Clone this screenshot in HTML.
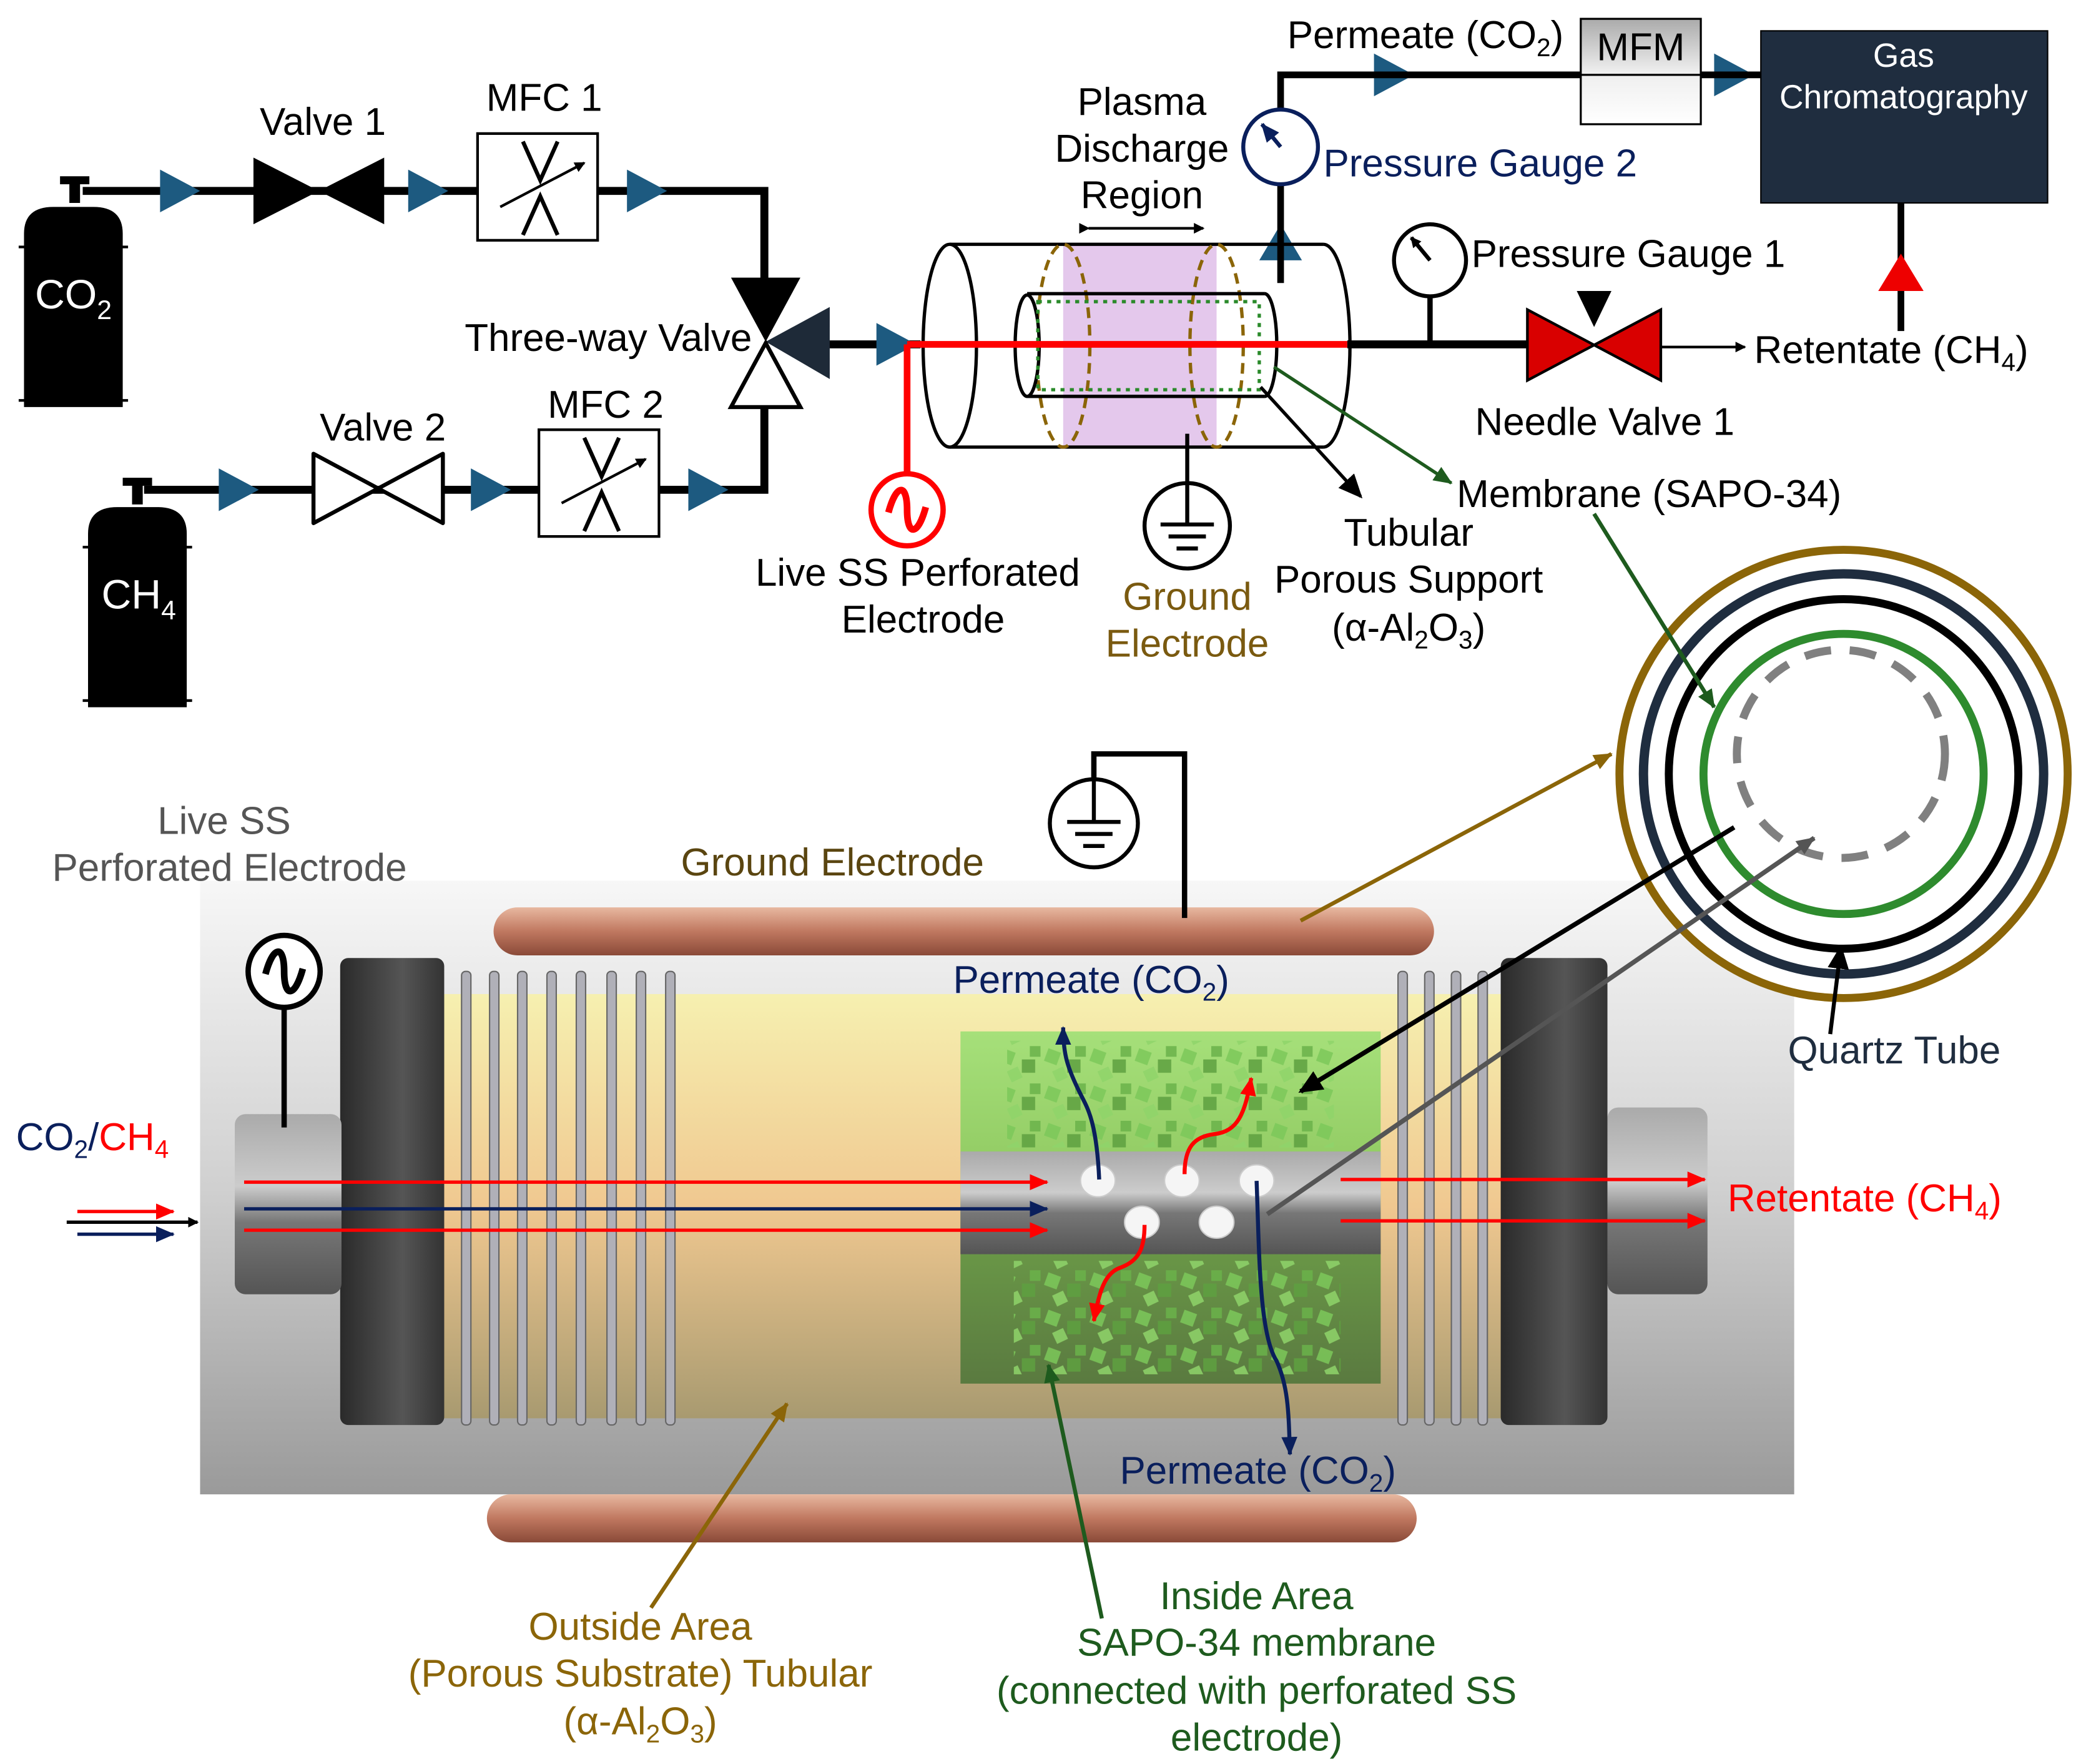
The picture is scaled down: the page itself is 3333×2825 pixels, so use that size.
<!DOCTYPE html>
<html><head><meta charset="utf-8"><style>
html,body{margin:0;padding:0;background:#fff}
svg{display:block}
text{font-family:"Liberation Sans",sans-serif}
</style></head><body>
<svg width="3333" height="2825" viewBox="0 0 1560 1322" xmlns="http://www.w3.org/2000/svg">
<defs>
<marker id="ak" markerWidth="8" markerHeight="8" refX="7" refY="4" orient="auto" markerUnits="userSpaceOnUse"><path d="M0,0 L8,4 L0,8z" fill="#000"/></marker>
<marker id="ak2" markerWidth="18" markerHeight="16" refX="16" refY="8" orient="auto" markerUnits="userSpaceOnUse"><path d="M0,0 L18,8 L0,16z" fill="#000"/></marker>
<marker id="ar" markerWidth="14" markerHeight="12" refX="13" refY="6" orient="auto" markerUnits="userSpaceOnUse"><path d="M0,0 L14,6 L0,12z" fill="#f00"/></marker>
<marker id="ab" markerWidth="14" markerHeight="12" refX="13" refY="6" orient="auto" markerUnits="userSpaceOnUse"><path d="M0,0 L14,6 L0,12z" fill="#0a1f5c"/></marker>
<marker id="ag" markerWidth="14" markerHeight="12" refX="13" refY="6" orient="auto" markerUnits="userSpaceOnUse"><path d="M0,0 L14,6 L0,12z" fill="#1e5b1e"/></marker>
<marker id="ao" markerWidth="14" markerHeight="12" refX="13" refY="6" orient="auto" markerUnits="userSpaceOnUse"><path d="M0,0 L14,6 L0,12z" fill="#8b6508"/></marker>
<marker id="ag2" markerWidth="14" markerHeight="12" refX="13" refY="6" orient="auto" markerUnits="userSpaceOnUse"><path d="M0,0 L14,6 L0,12z" fill="#555"/></marker>
<linearGradient id="quartz" x1="0" y1="0" x2="0" y2="1"><stop offset="0" stop-color="#f7f7f7"/><stop offset="0.5" stop-color="#d0d0d0"/><stop offset="1" stop-color="#9a9a9a"/></linearGradient>
<linearGradient id="cap" x1="0" y1="0" x2="1" y2="0"><stop offset="0" stop-color="#2a2a2a"/><stop offset="0.6" stop-color="#555"/><stop offset="1" stop-color="#333"/></linearGradient>
<linearGradient id="yel" x1="0" y1="0" x2="0" y2="1"><stop offset="0" stop-color="#f6f0b0"/><stop offset="0.5" stop-color="#f0c890"/><stop offset="1" stop-color="#a89a70"/></linearGradient>
<linearGradient id="grn" x1="0" y1="0" x2="0" y2="1"><stop offset="0" stop-color="#a6e07a"/><stop offset="0.45" stop-color="#8fc860"/><stop offset="0.55" stop-color="#6c9c48"/><stop offset="1" stop-color="#5a7a40"/></linearGradient>
<linearGradient id="tube" x1="0" y1="0" x2="0" y2="1"><stop offset="0" stop-color="#aaa"/><stop offset="0.4" stop-color="#ccc"/><stop offset="0.6" stop-color="#777"/><stop offset="1" stop-color="#555"/></linearGradient>
<linearGradient id="cu" x1="0" y1="0" x2="0" y2="1"><stop offset="0" stop-color="#e8b8a0"/><stop offset="0.5" stop-color="#c07860"/><stop offset="1" stop-color="#8a4a38"/></linearGradient>
<linearGradient id="mfm" x1="0" y1="0" x2="0" y2="1"><stop offset="0" stop-color="#aaa"/><stop offset="0.5" stop-color="#eee"/><stop offset="1" stop-color="#fff"/></linearGradient>
<pattern id="cubes" width="34" height="28" patternUnits="userSpaceOnUse"><rect x="2" y="3" width="10" height="10" fill="#7cc85a" transform="rotate(20 7 8)"/><rect x="18" y="10" width="10" height="10" fill="#5ea040"/><rect x="8" y="17" width="9" height="9" fill="#8fd46a" transform="rotate(-25 12 21)"/><rect x="24" y="0" width="8" height="8" fill="#6ab24a"/></pattern>
</defs>

<rect x="45" y="132" width="22" height="6" fill="#000"/><rect x="52" y="136" width="8" height="16" fill="#000"/>
<path d="M18,305 L18,175 Q18,155 40,155 L70,155 Q92,155 92,175 L92,305 Z" fill="#000"/>
<line x1="14" y1="185" x2="96" y2="185" stroke="#000" stroke-width="2"/><line x1="14" y1="300" x2="96" y2="300" stroke="#000" stroke-width="2"/>
<text x="55" y="231" font-size="31" fill="#fff" text-anchor="middle">CO<tspan font-size="20" dy="8">2</tspan></text>
<rect x="92" y="358" width="22" height="6" fill="#000"/><rect x="99" y="362" width="8" height="16" fill="#000"/>
<path d="M66,530 L66,400 Q66,380 88,380 L118,380 Q140,380 140,400 L140,530 Z" fill="#000"/>
<line x1="62" y1="410" x2="144" y2="410" stroke="#000" stroke-width="2"/><line x1="62" y1="525" x2="144" y2="525" stroke="#000" stroke-width="2"/>
<text x="104" y="456" font-size="31" fill="#fff" text-anchor="middle">CH<tspan font-size="20" dy="8">4</tspan></text>

<polyline points="62,143 573,143 573,215" fill="none" stroke="#000" stroke-width="6"/>
<polyline points="108,367 573,367 573,300" fill="none" stroke="#000" stroke-width="6"/>
<line x1="620" y1="258" x2="690" y2="258" stroke="#000" stroke-width="6"/>
<g fill="#1d5a80">
<path d="M120,127 L150,143 L120,159z"/><path d="M306,127 L336,143 L306,159z"/><path d="M470,127 L500,143 L470,159z"/>
<path d="M164,351 L194,367 L164,383z"/><path d="M353,351 L383,367 L353,383z"/><path d="M516,351 L546,367 L516,383z"/>
<path d="M657,242 L687,258 L657,274z"/>
<path d="M1030,40 L1060,56 L1030,72z"/><path d="M1285,40 L1315,56 L1285,72z"/>
<path d="M944,195 L960,168 L976,195z"/>
</g>
<path d="M190,118 L288,168 L288,118 L190,168z" fill="#000"/>
<text x="242" y="101" font-size="29" text-anchor="middle">Valve 1</text>
<rect x="358" y="100" width="90" height="80" fill="#fff" stroke="#000" stroke-width="2"/>
<path d="M392,106 L405,135 L418,106 M392,176 L405,147 L418,176" fill="none" stroke="#000" stroke-width="3"/>
<line x1="375" y1="155" x2="438" y2="122" stroke="#000" stroke-width="2" marker-end="url(#ak)"/>
<text x="408" y="83" font-size="29" text-anchor="middle">MFC 1</text>
<path d="M235,340 L332,392 L332,340 L235,392z" fill="#fff" stroke="#000" stroke-width="3" stroke-linejoin="round"/>
<text x="287" y="330" font-size="29" text-anchor="middle">Valve 2</text>
<rect x="404" y="322" width="90" height="80" fill="#fff" stroke="#000" stroke-width="2"/>
<path d="M438,328 L451,357 L464,328 M438,398 L451,369 L464,398" fill="none" stroke="#000" stroke-width="3"/>
<line x1="421" y1="377" x2="484" y2="344" stroke="#000" stroke-width="2" marker-end="url(#ak)"/>
<text x="454" y="313" font-size="29" text-anchor="middle">MFC 2</text>
<path d="M548,208 L600,208 L574,256z" fill="#000"/>
<path d="M622,230 L622,284 L574,256z" fill="#1e2a38"/>
<path d="M548,305 L600,305 L574,257z" fill="#fff" stroke="#000" stroke-width="3"/>
<text x="456" y="263" font-size="29" text-anchor="middle">Three-way Valve</text>

<rect x="797" y="183" width="115" height="152" fill="#e4c8ec"/>
<line x1="712" y1="183" x2="992" y2="183" stroke="#000" stroke-width="2.5"/>
<line x1="712" y1="335" x2="992" y2="335" stroke="#000" stroke-width="2.5"/>
<ellipse cx="712" cy="259" rx="20" ry="76" fill="#fff" stroke="#000" stroke-width="2.5"/>
<path d="M992,183 A20,76 0 0 1 992,335" fill="none" stroke="#000" stroke-width="2.5"/>
<ellipse cx="797" cy="259" rx="20" ry="76" fill="none" stroke="#8b6508" stroke-width="2.5" stroke-dasharray="8,5"/>
<ellipse cx="912" cy="259" rx="20" ry="76" fill="none" stroke="#8b6508" stroke-width="2.5" stroke-dasharray="8,5"/>
<line x1="770" y1="220" x2="948" y2="220" stroke="#000" stroke-width="2.5"/>
<line x1="770" y1="297" x2="948" y2="297" stroke="#000" stroke-width="2.5"/>
<ellipse cx="770" cy="259" rx="9" ry="38" fill="#fff" stroke="#000" stroke-width="2.5"/>
<path d="M948,220 A9,38 0 0 1 948,297" fill="none" stroke="#000" stroke-width="2.5"/>
<rect x="778" y="226" width="166" height="66" fill="none" stroke="#2a8a2a" stroke-width="2.5" stroke-dasharray="3,4"/>
<line x1="816" y1="171" x2="902" y2="171" stroke="#000" stroke-width="2" marker-end="url(#ak)" marker-start="url(#ak)"/>
<text x="856" y="86" font-size="29" text-anchor="middle">Plasma</text>
<text x="856" y="121" font-size="29" text-anchor="middle">Discharge</text>
<text x="856" y="156" font-size="29" text-anchor="middle">Region</text>
<line x1="680" y1="258" x2="1010" y2="258" stroke="#f00" stroke-width="5"/>
<line x1="680" y1="258" x2="680" y2="360" stroke="#f00" stroke-width="5"/>
<circle cx="680" cy="382" r="27" fill="#fff" stroke="#f00" stroke-width="4"/>
<path d="M666,384 C672,362 680,362 680,382 C680,402 688,402 694,380" fill="none" stroke="#f00" stroke-width="5"/>
<text x="688" y="439" font-size="29" text-anchor="middle">Live SS Perforated</text>
<text x="692" y="474" font-size="29" text-anchor="middle">Electrode</text>
<line x1="890" y1="325" x2="890" y2="362" stroke="#000" stroke-width="3"/>
<circle cx="890" cy="394" r="32" fill="#fff" stroke="#000" stroke-width="3"/>
<line x1="890" y1="362" x2="890" y2="392" stroke="#000" stroke-width="3"/>
<g stroke="#000" stroke-width="3"><line x1="870" y1="393" x2="910" y2="393"/><line x1="876" y1="402" x2="904" y2="402"/><line x1="882" y1="411" x2="898" y2="411"/></g>
<text x="890" y="457" font-size="29" fill="#7a5a10" text-anchor="middle">Ground</text>
<text x="890" y="492" font-size="29" fill="#7a5a10" text-anchor="middle">Electrode</text>
<line x1="945" y1="290" x2="1020" y2="372" stroke="#000" stroke-width="2.5" marker-end="url(#ak2)"/>
<line x1="955" y1="275" x2="1088" y2="362" stroke="#1e5b1e" stroke-width="2.5" marker-end="url(#ag)"/>
<text x="1056" y="409" font-size="29" text-anchor="middle">Tubular</text>
<text x="1056" y="444" font-size="29" text-anchor="middle">Porous Support</text>
<text x="1056" y="480" font-size="29" text-anchor="middle">(α-Al<tspan font-size="19" dy="6">2</tspan><tspan dy="-6">O</tspan><tspan font-size="19" dy="6">3</tspan><tspan dy="-6">)</tspan></text>
<text x="1092" y="380" font-size="29">Membrane (SAPO-34)</text>
<line x1="1010" y1="258" x2="1150" y2="258" stroke="#000" stroke-width="6"/>
<line x1="1072" y1="222" x2="1072" y2="258" stroke="#000" stroke-width="4"/>
<circle cx="1072" cy="195" r="27" fill="#fff" stroke="#000" stroke-width="3"/>
<line x1="1072" y1="195" x2="1058" y2="178" stroke="#000" stroke-width="3" marker-end="url(#ak)"/>
<text x="1103" y="200" font-size="29">Pressure Gauge 1</text>
<path d="M1145,232 L1245,285 L1245,232 L1145,285z" fill="#d90000" stroke="#000" stroke-width="2"/>
<path d="M1182,218 L1208,218 L1195,245z" fill="#000"/>
<line x1="1245" y1="260" x2="1308" y2="260" stroke="#000" stroke-width="2" marker-end="url(#ak)"/>
<text x="1315" y="272" font-size="29">Retentate (CH<tspan font-size="19" dy="6">4</tspan><tspan dy="-6">)</tspan></text>
<text x="1203" y="326" font-size="29" text-anchor="middle">Needle Valve 1</text>
<polyline points="960,212 960,56 1185,56" fill="none" stroke="#000" stroke-width="5"/>
<line x1="1275" y1="56" x2="1320" y2="56" stroke="#000" stroke-width="5"/>
<circle cx="960" cy="110" r="28" fill="#fff" stroke="#0a1f5c" stroke-width="3"/>
<line x1="960" y1="110" x2="946" y2="93" stroke="#0a1f5c" stroke-width="3" marker-end="url(#ab)"/>
<text x="992" y="132" font-size="29" fill="#0a1f5c">Pressure Gauge 2</text>
<text x="965" y="36" font-size="29">Permeate (CO<tspan font-size="19" dy="6">2</tspan><tspan dy="-6">)</tspan></text>
<rect x="1185" y="14" width="90" height="79" fill="url(#mfm)" stroke="#000" stroke-width="1.5"/>
<line x1="1185" y1="56" x2="1275" y2="56" stroke="#000" stroke-width="1.5"/>
<text x="1230" y="45" font-size="29" text-anchor="middle">MFM</text>
<rect x="1320" y="23" width="215" height="129" fill="#1f2d3f" stroke="#000"/>
<text x="1427" y="50" font-size="25" fill="#fff" text-anchor="middle">Gas</text>
<text x="1427" y="81" font-size="25" fill="#fff" text-anchor="middle">Chromatography</text>
<line x1="1425" y1="152" x2="1425" y2="248" stroke="#000" stroke-width="5"/>
<path d="M1408,218 L1425,190 L1442,218z" fill="#e00"/>

<rect x="150" y="660" width="1195" height="460" fill="url(#quartz)"/>
<rect x="330" y="745" width="800" height="318" fill="url(#yel)"/>
<g fill="#b0b0b8" stroke="#666" stroke-width="1">
<rect x="346" y="728" width="7" height="340" rx="3"/><rect x="367" y="728" width="7" height="340" rx="3"/><rect x="388" y="728" width="7" height="340" rx="3"/><rect x="410" y="728" width="7" height="340" rx="3"/><rect x="432" y="728" width="7" height="340" rx="3"/><rect x="455" y="728" width="7" height="340" rx="3"/><rect x="477" y="728" width="7" height="340" rx="3"/><rect x="499" y="728" width="7" height="340" rx="3"/>
<rect x="1048" y="728" width="7" height="340" rx="3"/><rect x="1068" y="728" width="7" height="340" rx="3"/><rect x="1088" y="728" width="7" height="340" rx="3"/><rect x="1108" y="728" width="7" height="340" rx="3"/>
</g>
<rect x="720" y="773" width="315" height="264" fill="url(#grn)"/>
<rect x="755" y="780" width="245" height="80" fill="url(#cubes)" opacity="0.85"/>
<rect x="760" y="945" width="245" height="85" fill="url(#cubes)" opacity="0.85"/>
<rect x="720" y="863" width="315" height="77" fill="url(#tube)"/>
<g fill="#f5f5f5" stroke="#ccc"><ellipse cx="823" cy="885" rx="13" ry="12"/><ellipse cx="886" cy="885" rx="13" ry="12"/><ellipse cx="942" cy="885" rx="13" ry="12"/><ellipse cx="856" cy="916" rx="13" ry="12"/><ellipse cx="912" cy="916" rx="13" ry="12"/></g>
<rect x="255" y="718" width="78" height="350" rx="6" fill="url(#cap)"/>
<rect x="1125" y="718" width="80" height="350" rx="6" fill="url(#cap)"/>
<rect x="176" y="835" width="80" height="135" rx="8" fill="url(#tube)"/>
<rect x="1205" y="830" width="75" height="140" rx="8" fill="url(#tube)"/>
<rect x="370" y="680" width="705" height="36" rx="18" fill="url(#cu)"/>
<rect x="365" y="1120" width="697" height="36" rx="18" fill="url(#cu)"/>
<polyline points="820,585 820,565 888,565 888,688" fill="none" stroke="#000" stroke-width="4"/>
<circle cx="820" cy="617" r="33" fill="#fff" stroke="#000" stroke-width="3"/>
<line x1="820" y1="585" x2="820" y2="616" stroke="#000" stroke-width="3"/>
<g stroke="#000" stroke-width="3"><line x1="800" y1="616" x2="840" y2="616"/><line x1="806" y1="625" x2="834" y2="625"/><line x1="812" y1="634" x2="828" y2="634"/></g>
<text x="624" y="656" font-size="29" fill="#5a4510" text-anchor="middle">Ground Electrode</text>
<line x1="213" y1="756" x2="213" y2="845" stroke="#000" stroke-width="4"/>
<circle cx="213" cy="728" r="27" fill="#fff" stroke="#000" stroke-width="4"/>
<path d="M199,730 C205,708 213,708 213,728 C213,748 221,748 227,726" fill="none" stroke="#000" stroke-width="5"/>
<text x="168" y="625" font-size="29" fill="#555" text-anchor="middle">Live SS</text>
<text x="172" y="660" font-size="29" fill="#555" text-anchor="middle">Perforated Electrode</text>
<line x1="183" y1="886" x2="785" y2="886" stroke="#f00" stroke-width="2.5" marker-end="url(#ar)"/>
<line x1="183" y1="906" x2="785" y2="906" stroke="#0a1f5c" stroke-width="2.5" marker-end="url(#ab)"/>
<line x1="183" y1="922" x2="785" y2="922" stroke="#f00" stroke-width="2.5" marker-end="url(#ar)"/>
<line x1="1005" y1="884" x2="1278" y2="884" stroke="#f00" stroke-width="2.5" marker-end="url(#ar)"/>
<line x1="1005" y1="915" x2="1278" y2="915" stroke="#f00" stroke-width="2.5" marker-end="url(#ar)"/>
<line x1="58" y1="908" x2="130" y2="908" stroke="#f00" stroke-width="2.5" marker-end="url(#ar)"/>
<line x1="50" y1="916" x2="148" y2="916" stroke="#000" stroke-width="2.5" marker-end="url(#ak)"/>
<line x1="58" y1="925" x2="130" y2="925" stroke="#0a1f5c" stroke-width="2.5" marker-end="url(#ab)"/>
<text x="12" y="862" font-size="29" fill="#0a1f5c">CO<tspan font-size="19" dy="6">2</tspan><tspan dy="-6">/</tspan><tspan fill="#f00">CH</tspan><tspan fill="#f00" font-size="19" dy="6">4</tspan></text>
<text x="1295" y="908" font-size="29" fill="#f00">Retentate (CH<tspan font-size="19" dy="6">4</tspan><tspan dy="-6">)</tspan></text>
<path d="M824,884 C822,840 815,830 810,820 C800,800 797,790 797,770" fill="none" stroke="#0a1f5c" stroke-width="3" marker-end="url(#ab)"/>
<path d="M942,885 C944,940 944,1000 957,1020 C966,1040 966,1060 967,1090" fill="none" stroke="#0a1f5c" stroke-width="3" marker-end="url(#ab)"/>
<path d="M888,880 C888,860 895,852 910,850 C928,848 933,835 938,808" fill="none" stroke="#f00" stroke-width="3" marker-end="url(#ar)"/>
<path d="M858,918 C858,935 854,945 840,950 C828,954 824,968 820,990" fill="none" stroke="#f00" stroke-width="3" marker-end="url(#ar)"/>
<text x="818" y="744" font-size="29" fill="#0a1f5c" text-anchor="middle">Permeate (CO<tspan font-size="19" dy="6">2</tspan><tspan dy="-6">)</tspan></text>
<text x="943" y="1112" font-size="29" fill="#0a1f5c" text-anchor="middle">Permeate (CO<tspan font-size="19" dy="6">2</tspan><tspan dy="-6">)</tspan></text>
<circle cx="1382" cy="580" r="168" fill="#fff" stroke="#8b6508" stroke-width="6"/>
<circle cx="1382" cy="580" r="150" fill="none" stroke="#1f2d3f" stroke-width="7"/>
<circle cx="1382" cy="580" r="131" fill="none" stroke="#000" stroke-width="6"/>
<circle cx="1382" cy="580" r="105" fill="none" stroke="#2e8b2e" stroke-width="6"/>
<circle cx="1380" cy="565" r="78" fill="none" stroke="#808080" stroke-width="6" stroke-dasharray="20,14"/>
<line x1="1195" y1="385" x2="1285" y2="530" stroke="#1e5b1e" stroke-width="3" marker-end="url(#ag)"/>
<line x1="975" y1="690" x2="1208" y2="565" stroke="#8b6508" stroke-width="3" marker-end="url(#ao)"/>
<line x1="1300" y1="620" x2="975" y2="818" stroke="#000" stroke-width="3.5" marker-end="url(#ak2)"/>
<line x1="950" y1="910" x2="1360" y2="628" stroke="#555" stroke-width="3.5" marker-end="url(#ag2)"/>
<line x1="1372" y1="775" x2="1380" y2="710" stroke="#000" stroke-width="3" marker-end="url(#ak2)"/>
<text x="1420" y="797" font-size="29" fill="#1f2d3f" text-anchor="middle">Quartz Tube</text>
<line x1="488" y1="1205" x2="590" y2="1052" stroke="#8b6508" stroke-width="3" marker-end="url(#ao)"/>
<line x1="826" y1="1213" x2="786" y2="1023" stroke="#1e5b1e" stroke-width="3" marker-end="url(#ag)"/>
<text x="480" y="1229" font-size="29" fill="#8b6508" text-anchor="middle">Outside Area</text>
<text x="480" y="1264" font-size="29" fill="#8b6508" text-anchor="middle">(Porous Substrate) Tubular</text>
<text x="480" y="1300" font-size="29" fill="#8b6508" text-anchor="middle">(α-Al<tspan font-size="19" dy="6">2</tspan><tspan dy="-6">O</tspan><tspan font-size="19" dy="6">3</tspan><tspan dy="-6">)</tspan></text>
<text x="942" y="1206" font-size="29" fill="#1e5b1e" text-anchor="middle">Inside Area</text>
<text x="942" y="1241" font-size="29" fill="#1e5b1e" text-anchor="middle">SAPO-34 membrane</text>
<text x="942" y="1277" font-size="29" fill="#1e5b1e" text-anchor="middle">(connected with perforated SS</text>
<text x="942" y="1312" font-size="29" fill="#1e5b1e" text-anchor="middle">electrode)</text>
</svg>
</body></html>
